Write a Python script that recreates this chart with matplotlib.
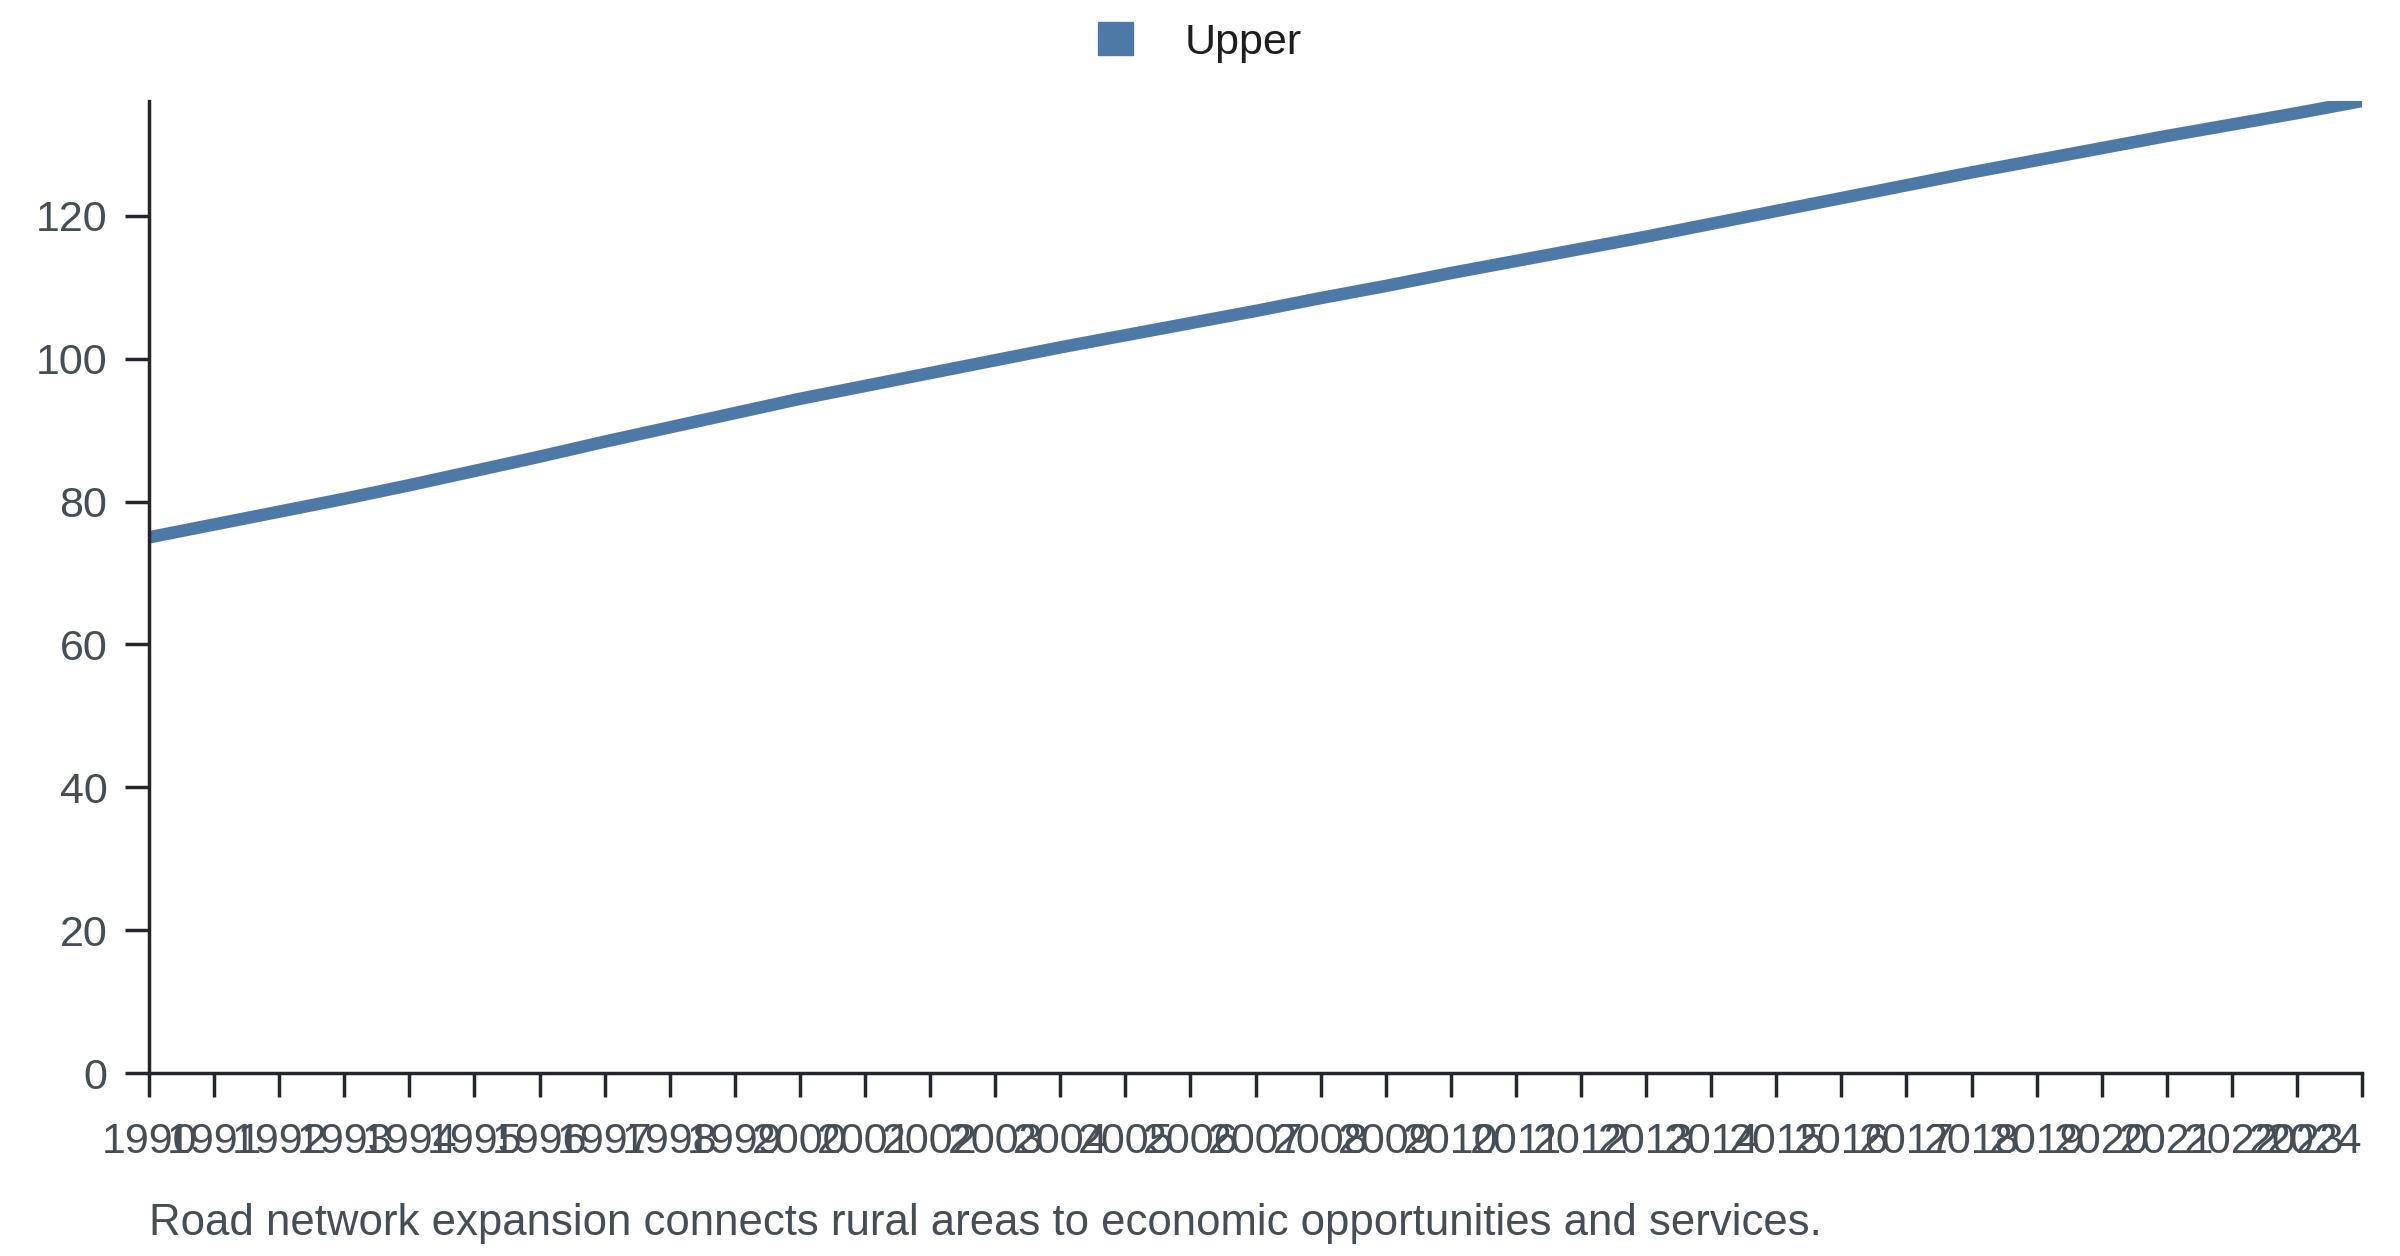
import matplotlib.pyplot as plt
from matplotlib.patches import Patch

plt.rcParams['font.family'] = ['Liberation Sans', 'DejaVu Sans']

years = list(range(1990, 2025))
upper = [75.0, 76.8, 78.6, 80.4, 82.3, 84.3, 86.3, 88.4, 90.4, 92.4,
         94.4, 96.2, 98.0, 99.8, 101.6, 103.3, 105.0, 106.7, 108.5, 110.2,
         112.0, 113.7, 115.4, 117.1, 118.9, 120.7, 122.5, 124.3, 126.1, 127.8,
         129.5, 131.2, 132.8, 134.4, 136.1]
caption = "Road network expansion connects rural areas to economic opportunities and services."

blue = '#4e79a7'
axis_col = '#23262b'
label_col = '#474d55'

fig = plt.figure(figsize=(24, 12.56), dpi=100)
ax = fig.add_axes([0.0621, 0.1457, 0.9221, 0.7739])

ax.plot(years, upper, color=blue, linewidth=9, solid_capstyle='butt')

ax.set_xlim(years[0], years[-1])
ax.set_ylim(0, max(upper))
ax.set_xticks(years)
ax.set_xticklabels([str(y) for y in years])
ax.set_yticks(range(0, 121, 20))

for side in ['top', 'right']:
    ax.spines[side].set_visible(False)
for side in ['left', 'bottom']:
    ax.spines[side].set_color(axis_col)
    ax.spines[side].set_linewidth(2.5)

ax.tick_params(axis='both', direction='out', length=17, width=2.5, color=axis_col,
               labelsize=31, labelcolor=label_col)
ax.tick_params(axis='y', pad=13)
ax.tick_params(axis='x', pad=18)
# last year label kept inside the axis end
ax.get_xticklabels()[-1].set_horizontalalignment('right')

# legend on top
handle = Patch(facecolor=blue, edgecolor=blue, label='Upper')
fig.legend(handles=[handle], loc='center', bbox_to_anchor=(0.5, 0.966), frameon=False,
           fontsize=31, handlelength=0.8, handleheight=0.8, handletextpad=1.2,
           labelcolor='#1e1e1e')

fig.text(0.0621, 0.0167, caption, fontsize=31.5, color=label_col, ha='left', va='baseline')

fig.savefig('out.png', dpi=100)
